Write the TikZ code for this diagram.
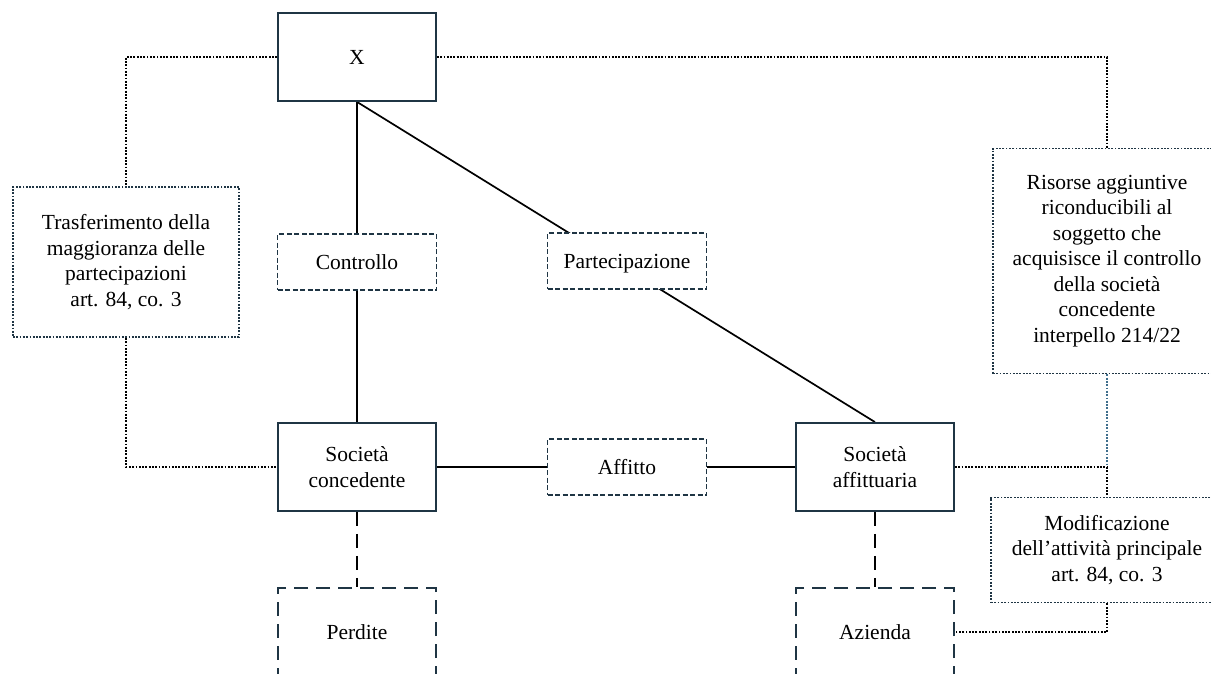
\documentclass[tikz,border=0pt]{standalone}
\usepackage{fontspec}
\setmainfont{Liberation Serif}
\usetikzlibrary{backgrounds}
\definecolor{boxline}{HTML}{1F3544}
\definecolor{dotblue}{HTML}{3F6E8C}
\begin{document}
\begin{tikzpicture}[x=1pt,y=-1pt,
  every node/.style={font=\fontsize{21.5}{25.5}\selectfont, align=center, inner sep=0pt},
  oneline/.style={text height=17pt, text depth=3pt},
  solidbox/.style={draw=boxline, line width=1.8pt, fill=white, minimum width=158pt, minimum height=88pt},
  tagbox/.style={oneline, draw=boxline, line width=1.8pt, fill=white, dash pattern=on 5pt off 2.5pt, minimum width=159pt, minimum height=56pt},
  loosebox/.style={oneline, draw=boxline, line width=1.8pt, fill=white, dash pattern=on 14pt off 8pt, minimum width=158pt, minimum height=88pt},
  notebox/.style={draw=boxline, line width=1.8pt, fill=white, dash pattern=on 1.8pt off 1.5pt},
  link/.style={draw=black, line width=1.7pt},
  dashlink/.style={draw=black, line width=1.8pt, dash pattern=on 14pt off 8pt},
  dotlink/.style={draw=black, line width=1.8pt, dash pattern=on 1.8pt off 1.5pt}]
\clip (0,0) rectangle (1211,673);

% main entities
\node[solidbox, oneline] (X) at (357,57) {X};
\node[solidbox] (conc) at (357,467) {Società\\concedente};
\node[solidbox] (aff) at (875,467) {Società\\affittuaria};

% relation labels
\node[tagbox] (ctrl) at (357,262) {Controllo};
\node[tagbox] (part) at (627,261) {Partecipazione};
\node[tagbox] (affitto) at (627,467) {Affitto};

% assets below the companies
\node[loosebox] (perd) at (357,632) {Perdite};
\node[loosebox] (az) at (875,632) {Azienda};

% notes
\node[notebox, minimum width=226pt, minimum height=150pt] (trasf) at (126,262)
  {Trasferimento della\\maggioranza delle\\partecipazioni\\art. 84, co. 3};
\node[notebox, minimum width=228pt, minimum height=225pt] (ris) at (1107,261)
  {Risorse aggiuntive\\riconducibili al\\soggetto che\\acquisisce il controllo\\della società\\concedente\\interpello 214/22};
\node[notebox, minimum width=232pt, minimum height=105pt] (mod) at (1107,550)
  {Modificazione\\dell’attività principale\\art. 84, co. 3};

\coordinate (j) at (ris.south |- aff.east);

\begin{scope}[on background layer]
  \fill[white] (0,0) rectangle (1211,673);
  % ownership and control
  \draw[link] (X.south) -- (ctrl.north);
  \draw[link] (ctrl.south) -- (conc.north);
  \draw[link] (X.south) -- (aff.north);
  % lease
  \draw[link] (conc.east) -- (affitto.west);
  \draw[link] (affitto.east) -- (aff.west);
  % assets
  \draw[dashlink] (conc.south) -- (perd.north);
  \draw[dashlink] (aff.south) -- (az.north);
  % notes
  \draw[dotlink] (X.west) -| (trasf.north);
  \draw[dotlink] (trasf.south) |- (conc.west);
  \draw[dotlink] (X.east) -| (ris.north);
  \draw[dotlink, draw=dotblue] (ris.south) -- (j);
  \draw[dotlink] (j) -- (mod.north);
  \draw[dotlink] (aff.east) -- (j);
  \draw[dotlink] (mod.south) |- (az.east);
\end{scope}
\end{tikzpicture}
\end{document}
